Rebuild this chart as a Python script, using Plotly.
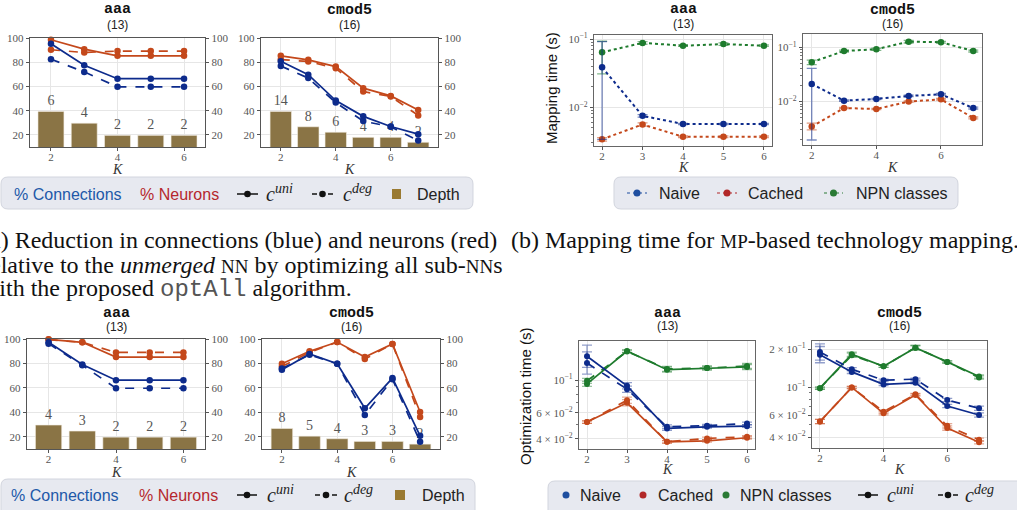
import plotly.graph_objects as go

W, H = 1017, 510

# ======================= DATA =======================
K_aaa = [2, 3, 4, 5, 6]
K_cmod5 = [2, 3, 4, 5, 6, 7]

# (a) top: optAll reduction (%)
a_top_aaa_conn_uni = [95.3, 77.5, 66.4, 66.4, 66.4]
a_top_aaa_conn_deg = [82.5, 72.0, 59.7, 59.7, 59.7]
a_top_aaa_neur_uni = [98.6, 90.8, 85.3, 85.3, 85.3]
a_top_aaa_neur_deg = [90.3, 88.0, 89.2, 89.2, 89.2]
a_top_aaa_bar = [39.4, 29.7, 19.6, 19.6, 19.6]
a_top_aaa_depth = [6, 4, 2, 2, 2]

a_top_cmod5_conn_uni = [80.8, 69.7, 48.3, 35.3, 26.9, 20.6]
a_top_cmod5_conn_deg = [76.9, 66.9, 46.7, 31.4, 26.7, 15.3]
a_top_cmod5_neur_uni = [85.3, 82.0, 76.4, 58.6, 52.2, 40.6]
a_top_cmod5_neur_deg = [82.2, 80.6, 75.0, 55.8, 51.7, 36.1]
a_top_cmod5_bar = [39.4, 26.7, 22.2, 18.0, 18.0, 13.9]
a_top_cmod5_depth = [14, 8, 6, 4, 4, 2]

# (a) bottom
a_bot_aaa_conn_uni = [97.3, 79.2, 66.3, 66.3, 66.3]
a_bot_aaa_conn_deg = [96.2, 78.6, 59.7, 59.7, 59.7]
a_bot_aaa_neur_uni = [99.7, 97.3, 85.2, 85.2, 85.2]
a_bot_aaa_neur_deg = [99.5, 97.3, 89.0, 89.0, 89.0]
a_bot_aaa_bar = [29.6, 24.7, 19.7, 19.7, 19.7]
a_bot_aaa_depth = [4, 3, 2, 2, 2]

a_bot_cmod5_conn_uni = [74.8, 87.7, 79.7, 43.3, 68.0, 20.8]
a_bot_cmod5_conn_deg = [75.9, 87.1, 79.7, 37.8, 67.1, 15.9]
a_bot_cmod5_neur_uni = [79.7, 89.9, 97.5, 85.2, 95.9, 40.3]
a_bot_cmod5_neur_deg = [77.5, 89.0, 97.5, 83.6, 95.9, 36.2]
a_bot_cmod5_bar = [26.8, 20.5, 18.4, 16.2, 16.2, 14.0]
a_bot_cmod5_depth = [8, 5, 4, 3, 3, 2]

# (b) top: mapping time (s) with error range (lo, hi)
map_aaa_naive = [0.0385, 0.0075, 0.0057, 0.0057, 0.0057]
map_aaa_naive_lo = [0.0034, 0.0072, 0.0056, 0.0056, 0.0056]
map_aaa_naive_hi = [0.092, 0.0078, 0.0058, 0.0058, 0.0058]
map_aaa_cached = [0.0034, 0.0056, 0.0037, 0.0037, 0.0037]
map_aaa_cached_lo = [0.0032, 0.0053, 0.0036, 0.0036, 0.0036]
map_aaa_cached_hi = [0.0036, 0.0059, 0.0038, 0.0038, 0.0038]
map_aaa_npn = [0.064, 0.088, 0.080, 0.0845, 0.080]
map_aaa_npn_lo = [0.031, 0.084, 0.078, 0.081, 0.078]
map_aaa_npn_hi = [0.093, 0.092, 0.082, 0.088, 0.082]

map_cmod5_naive = [0.0211, 0.0104, 0.0112, 0.0127, 0.0136, 0.0076]
map_cmod5_naive_lo = [0.00196, 0.0101, 0.0109, 0.0123, 0.0131, 0.0073]
map_cmod5_naive_hi = [0.041, 0.0107, 0.0115, 0.0131, 0.0141, 0.0079]
map_cmod5_cached = [0.00347, 0.0076, 0.0073, 0.0100, 0.0110, 0.0050]
map_cmod5_cached_lo = [0.0030, 0.0074, 0.0071, 0.0097, 0.0106, 0.0048]
map_cmod5_cached_hi = [0.0040, 0.0078, 0.0075, 0.0103, 0.0114, 0.0052]
map_cmod5_npn = [0.053, 0.0855, 0.092, 0.127, 0.124, 0.0855]
map_cmod5_npn_lo = [0.048, 0.082, 0.088, 0.120, 0.119, 0.082]
map_cmod5_npn_hi = [0.058, 0.089, 0.096, 0.134, 0.129, 0.089]

# (b) bottom: optimization time (s); error factors (multiplicative, hi/lo)
opt_aaa_naive_uni = [0.1456, 0.0916, 0.0470, 0.0482, 0.0487]
opt_aaa_naive_deg = [0.131, 0.0869, 0.0482, 0.0490, 0.0508]
opt_aaa_cached_uni = [0.0519, 0.0702, 0.0381, 0.0387, 0.0406]
opt_aaa_cached_deg = [0.0519, 0.0731, 0.0381, 0.0402, 0.0412]
opt_aaa_npn_uni = [0.0944, 0.158, 0.118, 0.121, 0.123]
opt_aaa_npn_deg = [0.099, 0.157, 0.1194, 0.121, 0.125]
opt_aaa_naive_err = [1.19, 1.05, 1.03, 1.02, 1.02]
opt_aaa_cached_err = [1.02, 1.05, 1.02, 1.02, 1.02]
opt_aaa_npn_err = [1.04, 1.02, 1.04, 1.03, 1.04]

opt_cmod5_naive_uni = [0.181, 0.132, 0.105, 0.108, 0.0708, 0.0600]
opt_cmod5_naive_deg = [0.190, 0.1386, 0.1135, 0.1156, 0.0789, 0.0679]
opt_cmod5_cached_uni = [0.0532, 0.0994, 0.0619, 0.0865, 0.0472, 0.0364]
opt_cmod5_cached_deg = [0.0532, 0.0994, 0.0638, 0.0875, 0.0492, 0.0382]
opt_cmod5_npn_uni = [0.098, 0.182, 0.1465, 0.2056, 0.1585, 0.1214]
opt_cmod5_npn_deg = [0.098, 0.179, 0.1465, 0.2056, 0.1585, 0.1190]
opt_cmod5_naive_err = [1.16, 1.03, 1.02, 1.02, 1.03, 1.04]
opt_cmod5_cached_err = [1.04, 1.02, 1.03, 1.02, 1.04, 1.03]
opt_cmod5_npn_err = [1.02, 1.04, 1.02, 1.04, 1.02, 1.03]

# ======================= STYLE =======================
BLUE = "#0d2b8c"
RED = "#c4481b"
GREEN = "#1e7b2d"
BARC = "#8a7445"
GRID = "#e6e6e6"
AXC = "#555555"
TICKFONT = dict(family="Liberation Serif", size=11, color="#555555")


def X(p):
    return p / W


def Y(p):
    return 1 - p / H


def rgba(hexc, a):
    h = hexc.lstrip("#")
    return "rgba(%d,%d,%d,%.2f)" % (int(h[0:2], 16), int(h[2:4], 16), int(h[4:6], 16), a)


def ref(kind, n):
    return kind if n == 1 else f"{kind}{n}"


def axkey(kind, n):
    return f"{kind}axis" if n == 1 else f"{kind}axis{n}"


fig = go.Figure()
layout_upd = {}
annotations = []
shapes = []


def ann(text, x, y, size=12, color="#222", family="Liberation Sans", xanchor="center", angle=0):
    annotations.append(dict(text=text, x=X(x), y=Y(y), xref="paper", yref="paper",
                            showarrow=False, xanchor=xanchor, yanchor="middle", textangle=angle,
                            font=dict(family=family, size=size, color=color)))


def titles(name, count, cx, y1, y2):
    ann("<b>%s</b>" % name, cx, y1, 15, "#111", "Liberation Mono")
    ann("(%d)" % count, cx, y2, 12, "#222", "Liberation Sans")


def xaxis_style(dom, xr, yanchor, tickvals, linecol):
    x0, x1 = dom
    return dict(domain=[X(x0), X(x1)], range=xr, anchor=yanchor,
                tickvals=tickvals, ticks="outside", ticklen=3, tickcolor=AXC,
                showline=True, linecolor=linecol, linewidth=1.2, mirror=True,
                showgrid=True, gridcolor=GRID, tickfont=TICKFONT, zeroline=False,
                automargin=False, ticklabelstandoff=-3)


def panel_a(xn, yb, yo, dom, xr, K, cu, cd, nu, nd, bar, depth):
    x0, x1, y0, y1 = dom
    fig.add_trace(go.Bar(x=K, y=bar, text=[str(v) for v in depth], textposition="outside",
                         textangle=0, cliponaxis=False, width=0.78,
                         marker=dict(color=BARC, line=dict(color="#f3efe4", width=0.6)),
                         textfont=dict(family="Liberation Serif", size=14, color="#555"),
                         xaxis=ref("x", xn), yaxis=ref("y", yb), showlegend=False, hoverinfo="skip"))
    for vals, col, dash in [(nu, RED, "solid"), (nd, RED, "dash"), (cu, BLUE, "solid"), (cd, BLUE, "dash")]:
        fig.add_trace(go.Scatter(x=K, y=vals, mode="lines+markers",
                                 line=dict(color=col, width=1.7, dash=dash),
                                 marker=dict(size=6.5, color=col), cliponaxis=False,
                                 xaxis=ref("x", xn), yaxis=ref("y", yo), showlegend=False))
    ticks = [20, 40, 60, 80, 100]
    layout_upd[axkey("x", xn)] = xaxis_style((x0, x1), xr, ref("y", yb), [2, 4, 6], AXC)
    layout_upd[axkey("y", yb)] = dict(domain=[Y(y1), Y(y0)], range=[10, 100], anchor=ref("x", xn),
                                      tickvals=ticks, ticks="outside", ticklen=3, tickcolor=AXC,
                                      showline=True, linecolor=AXC, linewidth=1.2,
                                      showgrid=True, gridcolor=GRID, tickfont=TICKFONT, zeroline=False,
                                      automargin=False)
    layout_upd[axkey("y", yo)] = dict(overlaying=ref("y", yb), side="right", anchor=ref("x", xn),
                                      range=[10, 100], tickvals=ticks, ticks="outside", ticklen=3,
                                      tickcolor=AXC, showline=True, linecolor=AXC, linewidth=1.2,
                                      showgrid=False, tickfont=TICKFONT, zeroline=False, automargin=False)


def minor_vals(lo_exp, hi_exp):
    out = []
    for e in range(lo_exp, hi_exp + 1):
        for m in range(2, 10):
            out.append(m * 10.0 ** e)
    return out


def log_axes(xn, yn, dom, xr, yr, xt, yvals, ylabels, minors):
    x0, x1, y0, y1 = dom
    layout_upd[axkey("x", xn)] = xaxis_style((x0, x1), xr, ref("y", yn), xt, "#666")
    layout_upd[axkey("y", yn)] = dict(domain=[Y(y1), Y(y0)], type="log", range=yr, anchor=ref("x", xn),
                                      tickvals=yvals, ticktext=ylabels, ticks="outside", ticklen=3,
                                      tickcolor=AXC, showline=True, linecolor="#666", linewidth=1.2,
                                      mirror=True, showgrid=True, gridcolor=GRID, tickfont=TICKFONT,
                                      zeroline=False, automargin=False,
                                      minor=dict(tickvals=minors, ticks="outside", ticklen=2,
                                                 tickcolor="#777", showgrid=False))


def err_abs(y, lo, hi, col):
    return dict(type="data", symmetric=False, array=[h - v for v, h in zip(y, hi)],
                arrayminus=[v - l for v, l in zip(y, lo)], color=rgba(col, 0.55), thickness=1.3, width=5)


def err_fac(y, f, col):
    return dict(type="data", symmetric=False, array=[v * ff - v for v, ff in zip(y, f)],
                arrayminus=[v - v / ff for v, ff in zip(y, f)], color=rgba(col, 0.45), thickness=1.3, width=5)


def panel_b_top(xn, yn, K, naive, nlo, nhi, cached, clo, chi, npn, plo, phi):
    for y, lo, hi, col in [(npn, plo, phi, GREEN), (cached, clo, chi, RED), (naive, nlo, nhi, BLUE)]:
        fig.add_trace(go.Scatter(x=K, y=y, mode="lines+markers",
                                 line=dict(color=col, width=2, dash="dot"),
                                 marker=dict(size=6.5, color=col), error_y=err_abs(y, lo, hi, col),
                                 xaxis=ref("x", xn), yaxis=ref("y", yn), showlegend=False, cliponaxis=False))


def panel_b_bot(xn, yn, K, series):
    for y, dash, f, col in series:
        fig.add_trace(go.Scatter(x=K, y=y, mode="lines+markers",
                                 line=dict(color=col, width=1.7, dash=dash),
                                 marker=dict(size=6, color=col), error_y=err_fac(y, f, col),
                                 xaxis=ref("x", xn), yaxis=ref("y", yn), showlegend=False, cliponaxis=False))


# ---------- (a) panels ----------
panel_a(1, 1, 2, (30, 205, 38, 147), [1.37, 6.63], K_aaa, a_top_aaa_conn_uni, a_top_aaa_conn_deg,
        a_top_aaa_neur_uni, a_top_aaa_neur_deg, a_top_aaa_bar, a_top_aaa_depth)
panel_a(2, 3, 4, (261, 438, 38, 147), [1.28, 7.72], K_cmod5, a_top_cmod5_conn_uni, a_top_cmod5_conn_deg,
        a_top_cmod5_neur_uni, a_top_cmod5_neur_deg, a_top_cmod5_bar, a_top_cmod5_depth)
panel_a(3, 5, 6, (27, 205, 339, 449), [1.36, 6.64], K_aaa, a_bot_aaa_conn_uni, a_bot_aaa_conn_deg,
        a_bot_aaa_neur_uni, a_bot_aaa_neur_deg, a_bot_aaa_bar, a_bot_aaa_depth)
panel_a(4, 7, 8, (262, 440, 339, 449), [1.28, 7.72], K_cmod5, a_bot_cmod5_conn_uni, a_bot_cmod5_conn_deg,
        a_bot_cmod5_neur_uni, a_bot_cmod5_neur_deg, a_bot_cmod5_bar, a_bot_cmod5_depth)

# ---------- (b) top ----------
panel_b_top(5, 9, K_aaa, map_aaa_naive, map_aaa_naive_lo, map_aaa_naive_hi,
            map_aaa_cached, map_aaa_cached_lo, map_aaa_cached_hi,
            map_aaa_npn, map_aaa_npn_lo, map_aaa_npn_hi)
log_axes(5, 9, (594, 772, 35, 146), [1.8, 6.2], [-2.567, -0.94], [2, 3, 4, 5, 6],
         [0.01, 0.1], ["10<sup>−2</sup>", "10<sup>−1</sup>"], minor_vals(-3, -2))
panel_b_top(6, 10, K_cmod5, map_cmod5_naive, map_cmod5_naive_lo, map_cmod5_naive_hi,
            map_cmod5_cached, map_cmod5_cached_lo, map_cmod5_cached_hi,
            map_cmod5_npn, map_cmod5_npn_lo, map_cmod5_npn_hi)
log_axes(6, 10, (803, 982, 34, 145), [1.73, 7.27], [-2.80, -0.755], [2, 4, 6],
         [0.01, 0.1], ["10<sup>−2</sup>", "10<sup>−1</sup>"], minor_vals(-3, -2))

# ---------- (b) bottom ----------
panel_b_bot(7, 11, K_aaa, [
    (opt_aaa_npn_uni, "solid", opt_aaa_npn_err, GREEN), (opt_aaa_npn_deg, "dash", opt_aaa_npn_err, GREEN),
    (opt_aaa_cached_uni, "solid", opt_aaa_cached_err, RED), (opt_aaa_cached_deg, "dash", opt_aaa_cached_err, RED),
    (opt_aaa_naive_uni, "solid", opt_aaa_naive_err, BLUE), (opt_aaa_naive_deg, "dash", opt_aaa_naive_err, BLUE)])
log_axes(7, 11, (579, 755, 341, 449), [1.8, 6.2], [-1.468, -0.733], [2, 3, 4, 5, 6],
         [0.04, 0.06, 0.1], ["4 × 10<sup>−2</sup>", "6 × 10<sup>−2</sup>", "10<sup>−1</sup>"],
         [0.03, 0.05, 0.07, 0.08, 0.09, 0.2])
panel_b_bot(8, 12, K_cmod5, [
    (opt_cmod5_npn_uni, "solid", opt_cmod5_npn_err, GREEN), (opt_cmod5_npn_deg, "dash", opt_cmod5_npn_err, GREEN),
    (opt_cmod5_cached_uni, "solid", opt_cmod5_cached_err, RED), (opt_cmod5_cached_deg, "dash", opt_cmod5_cached_err, RED),
    (opt_cmod5_naive_uni, "solid", opt_cmod5_naive_err, BLUE), (opt_cmod5_naive_deg, "dash", opt_cmod5_naive_err, BLUE)])
log_axes(8, 12, (812, 987, 341, 448), [1.75, 7.25], [-1.484, -0.634], [2, 4, 6],
         [0.04, 0.06, 0.1, 0.2], ["4 × 10<sup>−2</sup>", "6 × 10<sup>−2</sup>", "10<sup>−1</sup>", "2 × 10<sup>−1</sup>"],
         [0.03, 0.05, 0.07, 0.08, 0.09])

# ---------- titles ----------
titles("aaa", 13, 117.5, 9, 25)
titles("cmod5", 16, 349.5, 10, 25)
titles("aaa", 13, 683, 9, 24)
titles("cmod5", 16, 892.5, 10, 24)
titles("aaa", 13, 116, 313, 327)
titles("cmod5", 16, 351, 313, 327)
titles("aaa", 13, 667, 313, 326)
titles("cmod5", 16, 899.5, 313, 326)

for cx, cy in [(117.5, 170), (349.5, 170), (683, 168), (892.5, 168),
               (116, 472), (351, 472), (667, 469), (899.5, 469)]:
    ann("<i>K</i>", cx, cy, 14, "#333", "Liberation Serif")

ann("Mapping time (s)", 551, 88, 15, "#111", angle=-90)
ann("Optimization time (s)", 525, 396, 15, "#111", angle=-90)


# ---------- legends ----------
def rrect(x0, y0, x1, y1, r=7):
    pts = "M %f,%f L %f,%f Q %f,%f %f,%f L %f,%f Q %f,%f %f,%f L %f,%f Q %f,%f %f,%f L %f,%f Q %f,%f %f,%f Z" % (
        X(x0 + r), Y(y0), X(x1 - r), Y(y0), X(x1), Y(y0), X(x1), Y(y0 + r),
        X(x1), Y(y1 - r), X(x1), Y(y1), X(x1 - r), Y(y1),
        X(x0 + r), Y(y1), X(x0), Y(y1), X(x0), Y(y1 - r),
        X(x0), Y(y0 + r), X(x0), Y(y0), X(x0 + r), Y(y0))
    shapes.append(dict(type="path", path=pts, xref="paper", yref="paper",
                       fillcolor="#e7e9f0", line=dict(color="#d2d5de", width=1), layer="below"))


def seg(x0, x1, y, col, width=1.5, dash="solid"):
    shapes.append(dict(type="line", x0=X(x0), x1=X(x1), y0=Y(y), y1=Y(y), xref="paper", yref="paper",
                       line=dict(color=col, width=width, dash=dash)))


def dot(cx, cy, r, col):
    shapes.append(dict(type="circle", x0=X(cx - r), x1=X(cx + r), y0=Y(cy + r), y1=Y(cy - r),
                       xref="paper", yref="paper", fillcolor=col, line=dict(color=col, width=0)))


def square(x0, x1, y0, y1, col):
    shapes.append(dict(type="rect", x0=X(x0), x1=X(x1), y0=Y(y1), y1=Y(y0), xref="paper", yref="paper",
                       fillcolor=col, line=dict(width=0)))


LBLUE = "#2158a8"
LRED = "#b5272d"
LEGF = 16
CUNI = "<i>c</i><sup><i>uni</i></sup>"
CDEG = "<i>c</i><sup><i>deg</i></sup>"


def legend_a(x0, x1, y0, y1, yc, pos):
    rrect(x0, y0, x1, y1)
    ann("% Connections", pos[0], yc, LEGF, LBLUE, xanchor="left")
    ann("% Neurons", pos[1], yc, LEGF, LRED, xanchor="left")
    s0, s1 = pos[2]
    seg(s0, s1, yc, "#111")
    dot((s0 + s1) / 2, yc, 3.3, "#111")
    ann(CUNI, pos[3], yc - 1, 20, "#222", "Liberation Serif", xanchor="left")
    d0, d1 = pos[4]
    seg(d0, d0 + 5, yc, "#111")
    seg(d1 - 5, d1, yc, "#111")
    dot((d0 + d1) / 2, yc, 3.3, "#111")
    ann(CDEG, pos[5], yc - 1, 20, "#222", "Liberation Serif", xanchor="left")
    q0, q1 = pos[6]
    square(q0, q1, yc - 5, yc + 5, "#9a7a32")
    ann("Depth", pos[7], yc, LEGF, "#222", xanchor="left")


legend_a(1, 473, 177, 209, 194, [12, 138, (237, 258), 264, (312, 333), 341, (392, 401), 415])
legend_a(1, 475, 479, 520, 495, [9, 137, (237, 257), 265, (315, 337), 342, (395, 405), 420])

# (b) top legend
rrect(614, 177, 958, 209)
for (l0, l1, tx, col, name) in [(627, 647, 657, "#1f4fa0", "Naive"), (717, 737, 746, "#b22828", "Cached"),
                                (824, 843, 854, "#2a7a35", "NPN classes")]:
    seg(l0, l1, 193, col, 1.2, "dot")
    dot((l0 + l1) / 2, 193, 3.5, col)
    ann(name, tx, 193, LEGF, "#222", xanchor="left")

# (b) bottom legend
rrect(548, 481, 1025, 520)
for (cx, tx, col, name) in [(566, 578, "#1f4fa0", "Naive"), (643, 656, "#b22828", "Cached"),
                            (726, 738, "#2a7a35", "NPN classes")]:
    dot(cx, 495, 3.5, col)
    ann(name, tx, 495, LEGF, "#222", xanchor="left")
seg(858, 878, 495, "#111")
dot(868, 495, 3.3, "#111")
ann(CUNI, 885, 494, 20, "#222", "Liberation Serif", xanchor="left")
seg(938, 943, 495, "#111")
seg(953, 958, 495, "#111")
dot(948, 495, 3.3, "#111")
ann(CDEG, 963, 494, 20, "#222", "Liberation Serif", xanchor="left")

# ---------- captions ----------
CAPF = 24
SC = "<span style='font-size:19px'>%s</span>"
MONO = "<span style='font-family:Liberation Mono;color:#555'>optAll</span>"
cap_a = ["(a) Reduction in connections (blue) and neurons (red)",
         "relative to the <i>unmerged</i> " + SC % "NN" + " by optimizing all sub-" + SC % "NN" + "s",
         "with the proposed " + MONO + " algorithm."]
for i, line in enumerate(cap_a):
    ann(line, -20, 240 + i * 24.5, CAPF, "#111", "Liberation Serif", xanchor="left")
ann("(b) Mapping time for " + SC % "MP" + "-based technology mapping.", 509, 240, CAPF, "#111",
    "Liberation Serif", xanchor="left")

layout_upd.update(dict(width=W, height=H, template="none",
                       margin=dict(l=0, r=0, t=0, b=0, pad=0, autoexpand=False),
                       paper_bgcolor="white", plot_bgcolor="white", showlegend=False,
                       barmode="overlay", annotations=annotations, shapes=shapes))
fig.update_layout(layout_upd)
fig.write_html("out.html", config={"displayModeBar": False, "staticPlot": True},
               post_script="document.body.style.margin='0';document.body.style.overflow='hidden';")
